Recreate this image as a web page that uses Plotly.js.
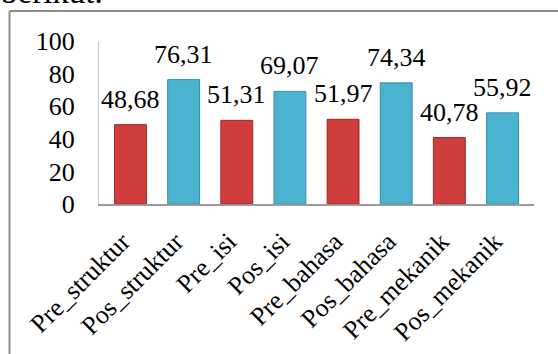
<!DOCTYPE html>
<html>
<head>
<meta charset="utf-8">
<script src="https://cdn.plot.ly/plotly-3.0.1.min.js"></script>
<style>html,body{margin:0;padding:0;background:#fff;}#chart{width:558px;height:354px;}</style>
</head>
<body>
<div id="chart"></div>
<script>
var categories = ["Pre_struktur","Pos_struktur","Pre_isi","Pos_isi","Pre_bahasa","Pos_bahasa","Pre_mekanik","Pos_mekanik"];
var values = [48.68, 76.31, 51.31, 69.07, 51.97, 74.34, 40.78, 55.92];
var labels = ["48,68","76,31","51,31","69,07","51,97","74,34","40,78","55,92"];
var yTicks = [0, 20, 40, 60, 80, 100];

var red = "#cf3d3d", blue = "#4ab4d0";
var colors = categories.map(function(c){ return c.indexOf("Pre") === 0 ? red : blue; });
var lines = categories.map(function(c){ return c.indexOf("Pre") === 0 ? "#9c2b2b" : "#3a8ea5"; });
var font = "Liberation Serif";

var trace = {
  type: "bar",
  x: categories,
  y: values,
  marker: {color: colors, line: {color: lines, width: 1}},
  width: 0.6,
  hoverinfo: "x+y"
};

var annotations = categories.map(function(c, i){
  return {x: c, y: values[i], xref: "x", yref: "y", text: labels[i], showarrow: false,
          yanchor: "bottom", yshift: 9, font: {family: font, size: 26, color: "#000"}};
});
annotations.push({x: -0.23, y: 1.19, yshift: -2, xref: "paper", yref: "paper", xanchor: "left", yanchor: "bottom",
  text: "berikut.", showarrow: false, font: {family: font, size: 33, color: "#000"}});

var layout = {
  width: 558, height: 354,
  margin: {l: 99, r: 24, t: 41, b: 150, pad: 0},
  paper_bgcolor: "#fff", plot_bgcolor: "#fff",
  showlegend: false,
  font: {family: font, size: 26, color: "#000"},
  xaxis: {type: "category", showline: true, linecolor: "#9a9a9a", linewidth: 2,
          tickangle: -45, ticks: "", showgrid: false, zeroline: false,
          ticklabelstandoff: 10, ticklabelshift: -8,
          tickfont: {family: font, size: 26, color: "#000"}},
  yaxis: {range: [0, 100], tickvals: yTicks, showline: true, linecolor: "#c8c8c8", linewidth: 1,
          ticks: "", showgrid: false, zeroline: false, ticklabelstandoff: 18,
          tickfont: {family: font, size: 26, color: "#000"}},
  shapes: [
    {type: "line", xref: "paper", yref: "paper", x0: -0.2057, x1: -0.2057, y0: -1.0, y1: 1.184,
     line: {color: "#8c8c8c", width: 2}},
    {type: "line", xref: "paper", yref: "paper", x0: -0.2057, x1: 1.2, y0: 1.184, y1: 1.184,
     line: {color: "#8c8c8c", width: 2}}
  ],
  annotations: annotations
};

Plotly.newPlot("chart", [trace], layout, {staticPlot: true, displayModeBar: false});
</script>
</body>
</html>
